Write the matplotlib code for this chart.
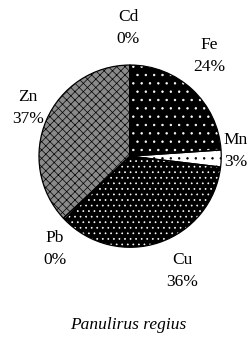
import matplotlib.pyplot as plt

plt.rcParams['font.family'] = 'Liberation Serif'
plt.rcParams['hatch.linewidth'] = 0.5

metals = ['Fe', 'Mn', 'Cu', 'Pb', 'Zn', 'Cd']
shares = [24, 3, 36, 0.3, 37, 0.05]
pct_labels = ['24%', '3%', '36%', '0%', '37%', '0%']

faces = ['black', 'white', 'black', 'white', '#8a8a8a', 'white']
hatch_cols = ['white', 'black', 'white', 'black', 'black', 'black']
hatches = ['..', '..', '...', '', 'xxxx', '']

fig = plt.figure(figsize=(2.49, 3.38), dpi=100)
ax = fig.add_axes([0.149, 0.263, 0.747, 0.550])

# filled wedges with hatches (hatch colour = edgecolor)
wedges, _ = ax.pie(shares, startangle=90, counterclock=False, radius=1)
for w, fc, hc, h in zip(wedges, faces, hatch_cols, hatches):
    w.set_facecolor(fc)
    w.set_edgecolor(hc)
    w.set_hatch(h)
    w.set_linewidth(0)

# black outlines on top
outl, _ = ax.pie(shares, startangle=90, counterclock=False, radius=1,
                 wedgeprops=dict(fill=False, edgecolor='black', linewidth=0.9))
ax.set_xlim(-1.02, 1.02)
ax.set_ylim(-1.02, 1.02)

# label positions in figure pixels (x from left, y from top)
label_pos = {'Fe': (209, 56), 'Mn': (236, 151), 'Cu': (182, 271),
             'Pb': (55, 249), 'Zn': (28, 108), 'Cd': (128, 28)}
for m, p in zip(metals, pct_labels):
    x, y = label_pos[m]
    fig.text(x / 249, 1 - y / 338, m + '\n' + p, ha='center', va='center',
             fontsize=12.5, linespacing=1.45)

fig.text(128 / 249, 1 - 325 / 338, 'Panulirus regius', ha='center', va='center',
         fontsize=12.5, style='italic')

fig.savefig('out.png', dpi=100)
